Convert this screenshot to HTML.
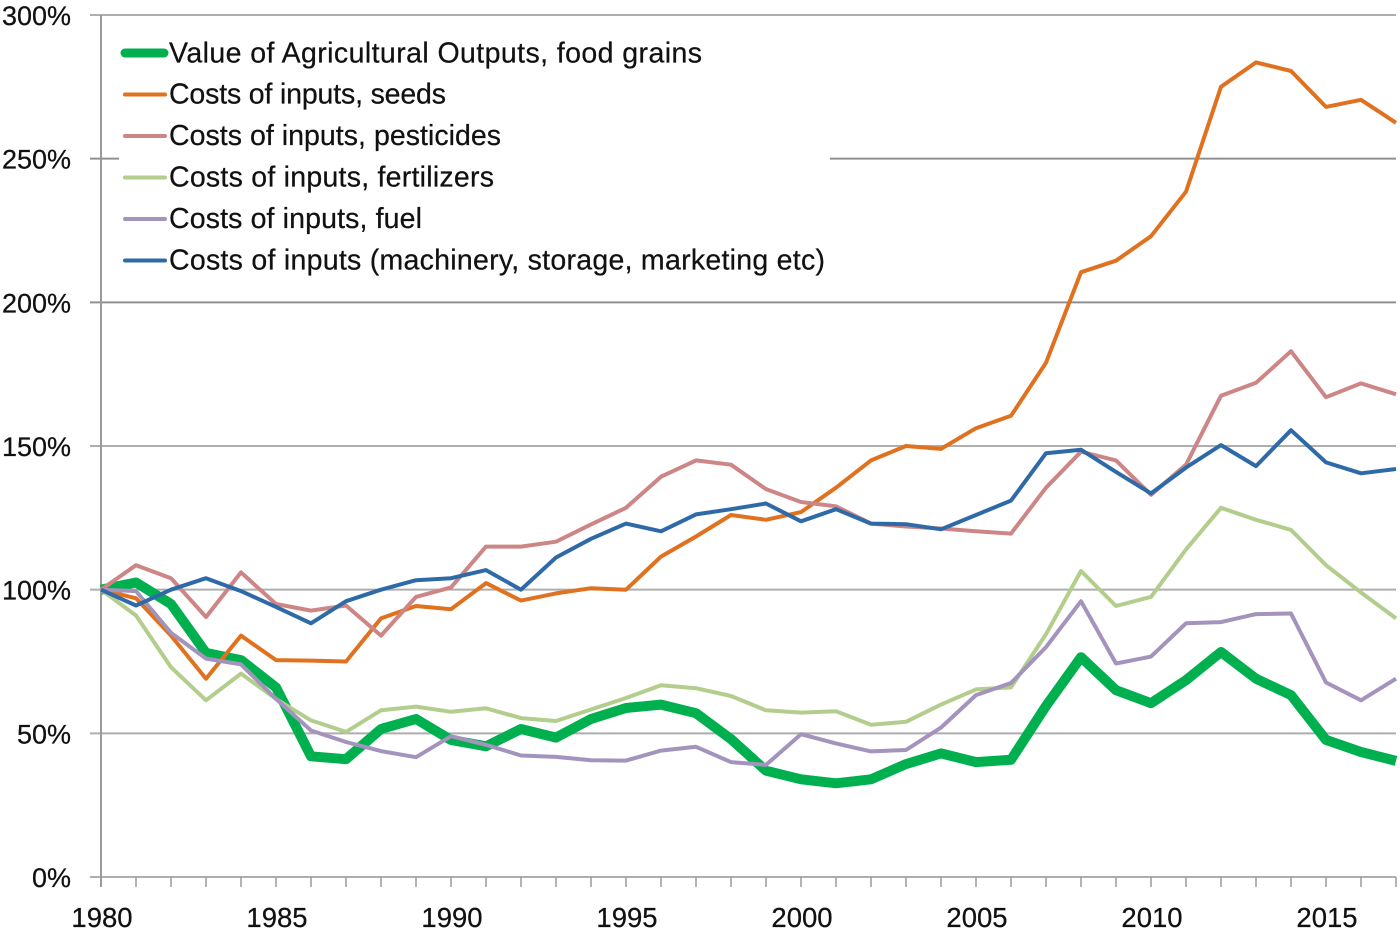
<!DOCTYPE html>
<html lang="en">
<head>
<meta charset="utf-8">
<title>Agricultural outputs vs input costs</title>
<style>
html,body{margin:0;padding:0;background:#fff;}
svg{display:block;}
text{font-family:"Liberation Sans",sans-serif;fill:#111;stroke:#111;stroke-width:0.25px;}
.tick{font-size:27.5px;}
.ytick{font-size:27px;}
.leg{font-size:28.5px;}
</style>
</head>
<body>
<svg id="chart" width="1400" height="931" viewBox="0 0 1400 931" xmlns="http://www.w3.org/2000/svg">
  <g id="grid"></g>
  <rect x="119" y="32" width="711" height="250" fill="#fff"></rect>
  <g id="axes"></g>
  <g id="series"></g>
  <g>
    <g>
      <line x1="125" y1="53" x2="164" y2="53" stroke="#00b04f" stroke-width="9" stroke-linecap="round"></line>
      <text class="leg" x="169" y="62.5" textLength="533" lengthAdjust="spacing">Value of Agricultural Outputs, food grains</text>
    </g>
    <g>
      <line x1="125" y1="94.5" x2="165" y2="94.5" stroke="#e0721f" stroke-width="4" stroke-linecap="round"></line>
      <text class="leg" x="169" y="103.5" textLength="277" lengthAdjust="spacing">Costs of inputs, seeds</text>
    </g>
    <g>
      <line x1="125" y1="136" x2="165" y2="136" stroke="#cd8585" stroke-width="4" stroke-linecap="round"></line>
      <text class="leg" x="169" y="145" textLength="332" lengthAdjust="spacing">Costs of inputs, pesticides</text>
    </g>
    <g>
      <line x1="125" y1="177.5" x2="165" y2="177.5" stroke="#b3cd8d" stroke-width="4" stroke-linecap="round"></line>
      <text class="leg" x="169" y="186.5" textLength="325" lengthAdjust="spacing">Costs of inputs, fertilizers</text>
    </g>
    <g>
      <line x1="125" y1="219" x2="165" y2="219" stroke="#a393bd" stroke-width="4" stroke-linecap="round"></line>
      <text class="leg" x="169" y="228" textLength="253" lengthAdjust="spacing">Costs of inputs, fuel</text>
    </g>
    <g>
      <line x1="125" y1="260.5" x2="165" y2="260.5" stroke="#2f6aa8" stroke-width="4" stroke-linecap="round"></line>
      <text class="leg" x="169" y="269.5" textLength="656" lengthAdjust="spacing">Costs of inputs (machinery, storage, marketing etc)</text>
    </g>
  </g>
</svg>
<script>
const startYear = 1980;
const endYear = 2017;
const yTickValues = [0, 50, 100, 150, 200, 250, 300];
const yTickLabels = ["0%", "50%", "100%", "150%", "200%", "250%", "300%"];
const xLabelYears = [1980, 1985, 1990, 1995, 2000, 2005, 2010, 2015];

const foodGrains = [100,102.5,95,78,75.5,66,42,41,51.5,55,47.7,45.5,51.5,48.5,55,58.8,60,57,48,37,34,32.6,34,39.3,43,40,40.8,59.5,76.5,65,60.5,68.5,78.3,69,63.3,47.7,43.5,40.4];
const seeds = [100,97,84,69,84,75.5,75.3,75,90,94.3,93.2,102.3,96.2,98.7,100.5,100,111.5,118.5,126,124.3,127,135.5,145,150,149,156.2,160.5,179,210.5,214.5,223,238.5,275,283.5,280.5,268,270.5,262.5];
const pesticides = [100,108.5,104,90.5,106,95,92.7,94.5,84,97.5,100.8,115,115,116.7,122.7,128.5,139.3,145,143.5,135,130.5,129,123,122,121.3,120.3,119.5,135.5,148,145,133,143.5,167.5,172,183,167,171.8,168];
const fertilizers = [100,91,73,61.5,70.8,62,54.5,50.5,58,59.3,57.5,58.7,55.3,54.3,58.3,62.3,66.7,65.7,63,58,57.2,57.7,53,54,60,65.3,66,84.5,106.5,94.3,97.5,114,128.5,124.3,120.8,108.5,99,90];
const fuel = [100,99.5,85,76,74,62,51,47,43.8,41.7,49,46,42.3,41.8,40.6,40.5,44,45.3,40,39,49.7,46.5,43.7,44.2,52,63.3,67.5,80,96,74.3,76.7,88.3,88.7,91.5,91.7,67.7,61.5,69];
const machinery = [100,94.5,100,104,99.5,94,88.3,96,100,103.3,104,106.8,100,111.2,117.7,123,120.3,126.2,128,130,123.8,128,123,122.8,121,126,131,147.5,148.7,141,133.5,142.5,150.3,143,155.5,144.3,140.5,142];

const NS = "http://www.w3.org/2000/svg";
const plotLeft = 101, plotRight = 1396, plotTop = 15, plotBottom = 877;
function xScale(year) {
  return plotLeft + (year - startYear) * (plotRight - plotLeft) / (endYear - startYear);
}
function yScale(v) {
  return plotBottom - v * (plotBottom - plotTop) / 300;
}
function svgEl(tag, attrs) {
  const el = document.createElementNS(NS, tag);
  for (const k in attrs) el.setAttribute(k, attrs[k]);
  return el;
}

const grid = document.getElementById("grid");
const axes = document.getElementById("axes");
const seriesGroup = document.getElementById("series");

yTickValues.forEach(function (v, i) {
  const line = svgEl("line", {x1: 90, x2: plotRight, y1: yScale(v), y2: yScale(v), stroke: v === 250 || v === 200 ? "#909090" : "#aeaeae", "stroke-width": 2});
  
  
  grid.appendChild(line);
  const label = svgEl("text", {x: 71, y: yScale(v) + 10, "text-anchor": "end", "class": "ytick"});
  
  
  label.textContent = yTickLabels[i];
  axes.appendChild(label);
});

const yAxis = svgEl("line", {x1: plotLeft, x2: plotLeft, y1: plotTop, y2: plotBottom + 10, stroke: "#9a9a9a", "stroke-width": 2});


axes.appendChild(yAxis);

for (let yr = startYear; yr <= endYear; yr++) {
  const tick = svgEl("line", {x1: xScale(yr), x2: xScale(yr), y1: plotBottom, y2: plotBottom + 10, stroke: "#9a9a9a", "stroke-width": 1.5});
  
  
  axes.appendChild(tick);
}
xLabelYears.forEach(function (yr) {
  const label = svgEl("text", {x: xScale(yr) + 1, y: 927, "text-anchor": "middle", "class": "tick"});
  
  
  label.textContent = String(yr);
  axes.appendChild(label);
});

function drawSeries(values, name, color, width) {
  const pts = values.map(function (v, i) {
    return xScale(startYear + i).toFixed(1) + "," + yScale(v).toFixed(1);
  }).join(" ");
  const line = svgEl("polyline", {points: pts, fill: "none", stroke: color, "stroke-width": width, "stroke-linejoin": "round", "stroke-linecap": "butt"});
  
  
  seriesGroup.appendChild(line);
}
drawSeries(foodGrains, "series-food-grains", "#00b04f", 10);
drawSeries(seeds, "series-seeds", "#e0721f", 4);
drawSeries(pesticides, "series-pesticides", "#cd8585", 4);
drawSeries(fertilizers, "series-fertilizers", "#b3cd8d", 4);
drawSeries(fuel, "series-fuel", "#a393bd", 4);
drawSeries(machinery, "series-machinery", "#2f6aa8", 4);
</script>
</body>
</html>
